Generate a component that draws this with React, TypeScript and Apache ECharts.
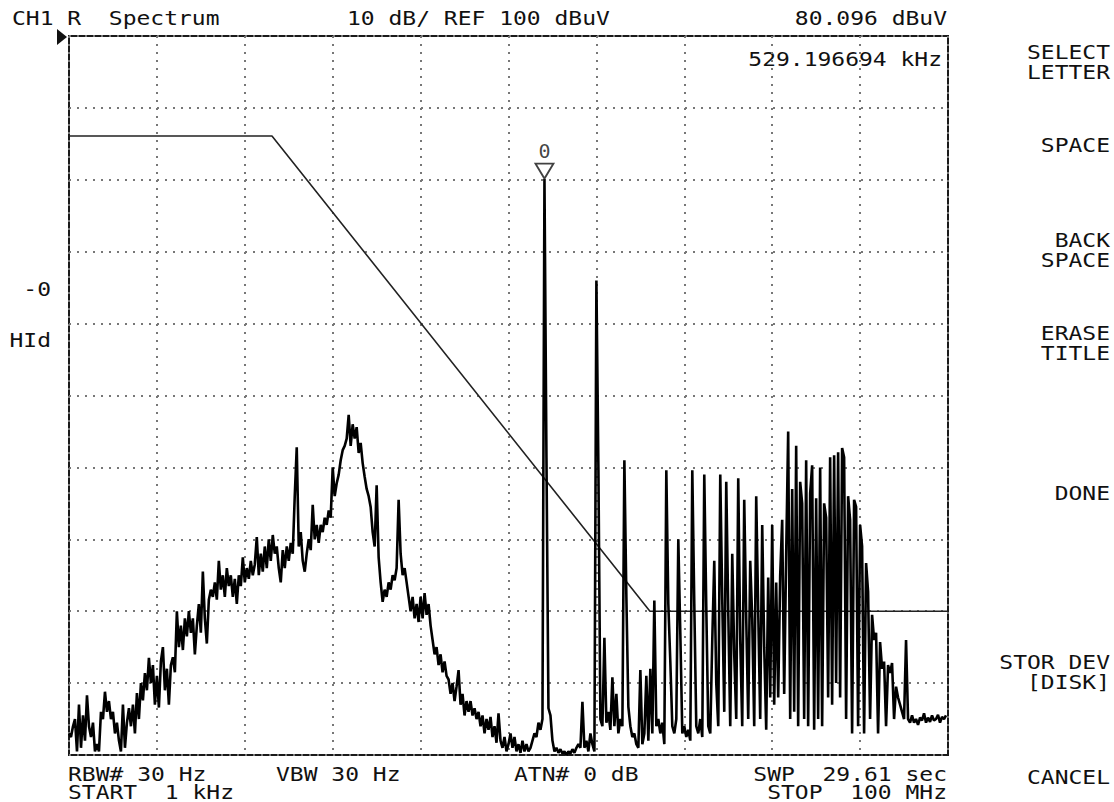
import React, { useEffect, useRef } from "react";
import * as echarts from "echarts";

// Trace amplitude in dBuV, one value per trace point (440 points from START to STOP)
const TRACE_DBUV: number[] = [
  3, 2.5, 4, 5, 0.5, 7, 1, 5.5, 2, 8.3,
  4, 2.5, 4.5, 0.5, 1.5, 0.5, 6, 5, 8.8, 6,
  7.5, 5, 6, 3, 4.5, 2, 0.5, 7, 1, 4.5,
  6.5, 4, 7, 3, 8.6, 5, 10, 7.6, 11.4, 9,
  13.5, 10, 12.5, 7, 11, 6.6, 13, 15, 9, 12,
  7, 12.5, 13.6, 11.5, 20, 15, 18, 14.6, 19, 16.5,
  20, 17, 19, 14, 18, 21, 17, 25.5, 19, 15.5,
  21.6, 23, 22, 24, 21.6, 27, 23, 25, 22, 26,
  23.5, 25, 22, 24.5, 21, 25, 23.5, 27.5, 24, 26,
  24.5, 27, 25, 26.5, 30.3, 25, 28, 25.5, 29, 26,
  30, 27, 30.6, 28, 29, 26, 24, 28.5, 26, 29,
  27, 29.5, 28, 36, 42.8, 29, 31, 27, 25.5, 28,
  30, 28.5, 34.8, 30, 32, 29.5, 32, 31, 33, 32,
  34, 33, 40, 36, 37.8, 39, 41, 42.4, 43, 44,
  47.3, 43, 46, 44, 45.6, 42, 43.4, 40.6, 38.7, 37,
  36, 34.5, 31, 29, 37.5, 27.5, 24, 21.3, 23, 22,
  24, 23, 25, 24.3, 26, 35.5, 28, 25, 26, 24,
  22, 20, 22, 19, 21, 18.5, 22, 19, 22.5, 19.5,
  21, 18, 16, 14, 15, 12.5, 14, 11.5, 13, 11,
  10.5, 8.5, 10, 7.5, 9.5, 11.8, 7, 8.5, 5.5, 7.5,
  6, 7.5, 5.5, 6.5, 5, 6, 4, 5.5, 3, 5,
  3.5, 5.3, 2.5, 4, 1.7, 5.8, 2, 1, 2.5, 0.5,
  1.5, 3, 1, 2.5, 0.5, 1.5, 0.3, 2, 0.5, 1.5,
  0.5, 1, 2, 3, 2.5, 4.5, 3.5, 5, 80.096, 41.3,
  6.5, 5.5, 2, 0.5, 1, 0.3, 0.8, 0.2, 0.5, 0,
  0.5, 0.2, 0.8, 0.3, 1, 1.5, 1, 7.4, 1, 2,
  0.5, 3, 1.5, 0.5, 66, 40, 5, 4, 16.3, 4.5,
  6, 3.5, 10.8, 4, 8.5, 3, 5, 4, 41, 22,
  6.7, 4, 2.5, 3, 1.5, 1, 11.8, 1.5, 3, 11,
  2, 12, 3, 21.5, 4, 5, 3, 4.5, 1.5, 39.6,
  21, 13, 4, 3, 5, 30, 17, 3, 4, 2.5,
  3.5, 2, 39.6, 21, 4, 3, 5, 2.5, 39, 20.6,
  4, 3, 16, 27, 10, 4, 39, 21.6, 6, 38,
  20, 4, 28, 14, 5, 38.5, 16, 4, 35.5, 19,
  5, 27, 19, 4, 36, 20, 5, 32, 15, 3.5,
  24.7, 8, 32, 7, 24, 8, 25, 32.7, 8.5, 28,
  45, 5, 37, 6, 43, 4, 38, 35, 5, 41,
  4, 36.4, 40.3, 3.5, 35.7, 5, 40, 4, 35, 33,
  8, 41.4, 7, 41.7, 10, 42.1, 8, 42.7, 41.4, 5,
  36, 32.7, 3, 35.5, 34.5, 4, 32, 29, 3, 26.7,
  22.7, 5, 19.5, 16, 17, 3, 15.7, 12, 13, 4,
  12.5, 11.4, 12.8, 5, 9.5, 8, 7, 6, 5, 16,
  5, 4.5, 5.5, 4.5, 5, 4.2, 5.2, 4.8, 5.8, 4.5,
  5.2, 4.6, 5.5, 4.8, 5, 5.6, 4.5, 5.3, 5, 5.5,
];

const TRACE_POINTS = 440;
const REF_LEVEL = 100;
const DB_PER_DIV = 10;
const DIVISIONS = 10;

// Limit line (trace point position, dBuV)
const LIMIT_X = [0, 101.6, 290.8, 440];
const LIMIT_DBUV = [86.1, 86.1, 20, 20];

// Marker
const MARKER_INDEX = 238;
const MARKER_LABEL = "0";
const MARKER_FREQ = "529.196694 kHz";

// Annotation texts
const HEADER_LEFT = "CH1 R  Spectrum";
const HEADER_MID = "10 dB/ REF 100 dBuV";
const HEADER_RIGHT = `${TRACE_DBUV[MARKER_INDEX].toFixed(3)} dBuV`;
const SIDE_LABELS = ["-0", "HId"];
const FOOTER_ROW1 = ["RBW# 30 Hz", "VBW 30 Hz", "ATN# 0 dB", "SWP  29.61 sec"];
const FOOTER_ROW2 = ["START  1 kHz", "STOP  100 MHz"];
const SOFTKEYS = ["SELECT", "LETTER", "SPACE", "BACK", "SPACE", "ERASE", "TITLE", "DONE", "STOR DEV", "[DISK]", "CANCEL"];
const SOFTKEY_Y = [52, 72, 145, 240, 260, 333, 353, 493, 662, 682, 777];

const FONT = '19px "DejaVu Sans Mono"';
const SX = 1.21;

function txt(text: string, x: number, y: number, align: string = "left") {
  return {
    type: "text",
    x,
    y,
    scaleX: SX,
    silent: true,
    style: { text, font: FONT, fill: "#111", align, verticalAlign: "middle", lineHeight: 15 },
  };
}

export default function App() {
  const ref = useRef<HTMLDivElement>(null);
  useEffect(() => {
    document.body.style.margin = "0";
    const chart = echarts.init(ref.current!, null, { renderer: "svg" });
    const gridStyle = { color: "#777", width: 2, type: [2, 6] as any };
    const graphic: any[] = [
      txt(HEADER_LEFT, 12, 18),
      txt(HEADER_MID, 347, 18),
      txt(HEADER_RIGHT, 947, 18, "right"),
      txt(MARKER_FREQ, 942, 59, "right"),
      txt(SIDE_LABELS[0], 51, 289, "right"),
      txt(SIDE_LABELS[1], 51, 340, "right"),
      txt(FOOTER_ROW1[0], 68, 774),
      txt(FOOTER_ROW1[1], 276, 774),
      txt(FOOTER_ROW1[2], 514, 774),
      txt(FOOTER_ROW1[3], 947, 774, "right"),
      txt(FOOTER_ROW2[0], 68, 792),
      txt(FOOTER_ROW2[1], 947, 792, "right"),
      ...SOFTKEYS.map((s, i) => txt(s, 1110, SOFTKEY_Y[i], "right")),
      {
        type: "polygon",
        silent: true,
        shape: { points: [[57, 29], [67, 37], [57, 45]] },
        style: { fill: "#111" },
      },
    ];
    chart.setOption({
      animation: false,
      backgroundColor: "#fff",
      grid: {
        left: 69,
        top: 36,
        width: 879,
        height: 719,
        show: true,
        borderColor: "#1a1a1a",
        borderWidth: 2,
      },
      xAxis: {
        type: "value",
        min: 0,
        max: TRACE_POINTS,
        interval: TRACE_POINTS / DIVISIONS,
        axisLine: { show: false },
        axisTick: { show: false },
        axisLabel: { show: false },
        splitLine: { show: true, lineStyle: gridStyle },
      },
      yAxis: {
        type: "value",
        min: REF_LEVEL - DB_PER_DIV * DIVISIONS,
        max: REF_LEVEL,
        interval: DB_PER_DIV,
        axisLine: { show: false },
        axisTick: { show: false },
        axisLabel: { show: false },
        splitLine: { show: true, lineStyle: gridStyle },
      },
      series: [
        {
          type: "line",
          data: LIMIT_X.map((x, i) => [x, LIMIT_DBUV[i]]),
          showSymbol: false,
          symbol: "none",
          silent: true,
          lineStyle: { color: "#222", width: 1.6 },
          z: 2,
        },
        {
          type: "line",
          data: TRACE_DBUV.map((v, i) => [i, v]),
          showSymbol: false,
          symbol: "none",
          silent: true,
          lineStyle: { color: "#000", width: 2.6, join: "bevel" },
          z: 3,
        },
        {
          type: "scatter",
          data: [[MARKER_INDEX, TRACE_DBUV[MARKER_INDEX]]],
          symbol: "triangle",
          symbolRotate: 180,
          symbolSize: [18, 15],
          symbolOffset: [0, -8],
          silent: true,
          itemStyle: { color: "#fff", borderColor: "#111", borderWidth: 1.8 },
          label: {
            show: true,
            formatter: MARKER_LABEL,
            position: "top",
            distance: 2,
            fontFamily: "DejaVu Sans Mono",
            fontSize: 20,
            color: "#111",
          },
          z: 4,
        },
      ],
      graphic,
    });
    return () => chart.dispose();
  }, []);
  return <div ref={ref} style={{ width: 1114, height: 802 }} />;
}
